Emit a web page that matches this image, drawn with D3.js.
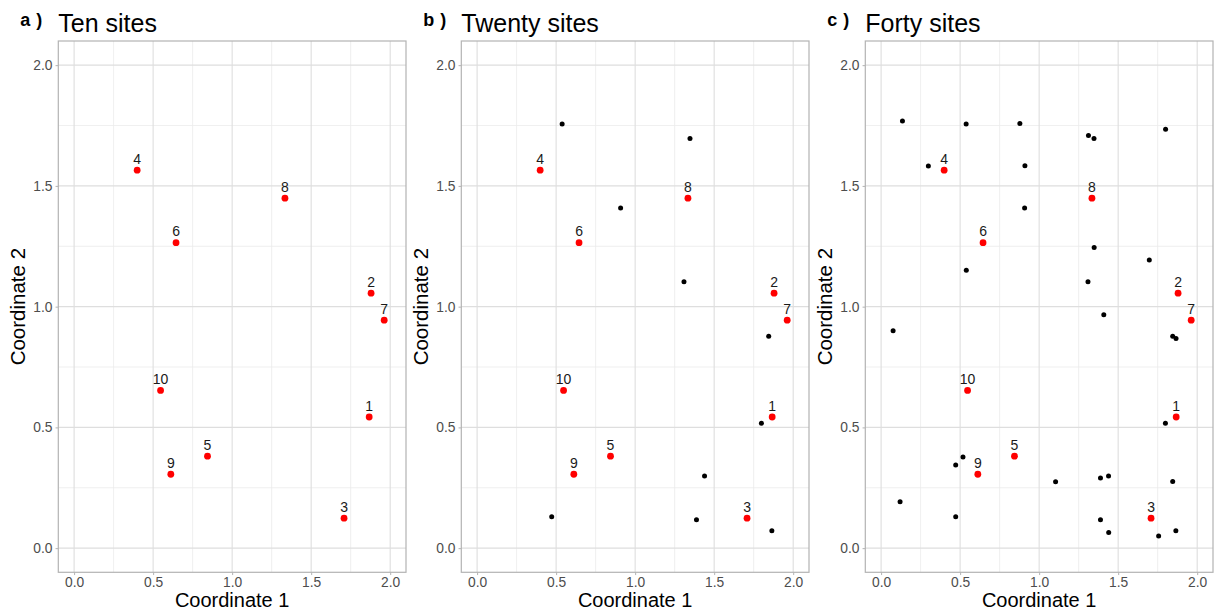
<!DOCTYPE html>
<html>
<head>
<meta charset="utf-8">
<script src="https://cdn.jsdelivr.net/npm/d3@7"></script>
<style>
  body { margin: 0; background: #fff; }
  svg text { font-family: "Liberation Sans", Arial, sans-serif; }
</style>
</head>
<body>
<div id="chart"></div>
<script>
// sites 1-10 are the labelled (red) ones, 11-20 added in panel b, 21-40 in panel c
const siteX = [1.867, 1.879, 1.708, 0.399, 0.844, 0.645, 1.962, 1.334, 0.612, 0.547,
               0.538, 1.347, 0.908, 1.309, 1.845, 1.799, 1.439, 0.472, 1.388, 1.865,
               0.135, 0.878, 1.312, 1.800, 0.299, 0.910, 0.539, 1.348, 1.697, 1.409,
               0.076, 1.866, 0.472, 0.518, 1.104, 1.388, 1.845, 0.120, 1.440, 1.756];
const siteY = [0.543, 1.056, 0.124, 1.565, 0.381, 1.265, 0.944, 1.449, 0.306, 0.653,
               1.756, 1.696, 1.409, 1.103, 0.877, 0.517, 0.299, 0.130, 0.118, 0.072,
               1.769, 1.758, 1.709, 1.735, 1.582, 1.583, 1.151, 1.245, 1.193, 0.966,
               0.900, 0.868, 0.344, 0.377, 0.275, 0.290, 0.276, 0.192, 0.065, 0.050];
const nLabelled = 10;
const panelSites = [10, 20, 40];
const panelTags = ['a', 'b', 'c'];
const panelTitles = ['Ten sites', 'Twenty sites', 'Forty sites'];
const majorTicks = [0, 0.5, 1, 1.5, 2];
const minorTicks = [0.25, 0.75, 1.25, 1.75];

const W = 1219, H = 612;
const panelLeft = [58.3, 461.3, 865.3];
const pw = 347.7;
const plotTop = 41, plotBottom = 572.3;

const svg = d3.select('#chart').append('svg')
    .attr('width', W)
    .attr('height', H);

panelSites.forEach((n, i) => {
  const h = plotBottom - plotTop;
  const x = d3.scaleLinear().domain([-0.1, 2.1]).range([0, pw]);
  const y = d3.scaleLinear().domain([-0.1, 2.1]).range([h, 0]);

  const g = svg.append('g')
      .attr('transform', `translate(${panelLeft[i]},${plotTop})`);

  // minor grid
  g.append('g').selectAll('line')
    .data(minorTicks).join('line')
      .attr('x1', d => x(d)).attr('x2', d => x(d))
      .attr('y1', 0).attr('y2', h)
      .attr('stroke', '#ebebeb').attr('stroke-width', 0.8);
  g.append('g').selectAll('line')
    .data(minorTicks).join('line')
      .attr('y1', d => y(d)).attr('y2', d => y(d))
      .attr('x1', 0).attr('x2', pw)
      .attr('stroke', '#ebebeb').attr('stroke-width', 0.8);

  // major grid
  g.append('g').selectAll('line')
    .data(majorTicks).join('line')
      .attr('x1', d => x(d)).attr('x2', d => x(d))
      .attr('y1', 0).attr('y2', h)
      .attr('stroke', '#dedede').attr('stroke-width', 1.1);
  g.append('g').selectAll('line')
    .data(majorTicks).join('line')
      .attr('y1', d => y(d)).attr('y2', d => y(d))
      .attr('x1', 0).attr('x2', pw)
      .attr('stroke', '#dedede').attr('stroke-width', 1.1);

  // axes
  const xAxis = g.append('g')
      .attr('transform', `translate(0,${h})`)
      .call(d3.axisBottom(x).tickValues(majorTicks).tickFormat(d3.format('.1f')).tickSize(2.75).tickPadding(2.5));
  const yAxis = g.append('g')
      .call(d3.axisLeft(y).tickValues(majorTicks).tickFormat(d3.format('.1f')).tickSize(2.75).tickPadding(3));
  [xAxis, yAxis].forEach(a => {
    a.select('.domain').remove();
    a.selectAll('line').attr('stroke', '#b3b3b3').attr('stroke-width', 1);
    a.selectAll('text').attr('fill', '#4d4d4d').style('font-size', '13.8px');
  });

  // panel border
  g.append('rect')
      .attr('width', pw).attr('height', h)
      .attr('fill', 'none')
      .attr('stroke', '#b3b3b3').attr('stroke-width', 1.2);

  const sites = d3.range(n).map(k => ({ id: k + 1, x: siteX[k], y: siteY[k] }));

  // unlabelled sites
  g.append('g').selectAll('circle')
    .data(sites.filter(d => d.id > nLabelled)).join('circle')
      .attr('cx', d => x(d.x)).attr('cy', d => y(d.y))
      .attr('r', 2.5).attr('fill', '#000');

  // labelled sites
  g.append('g').selectAll('circle')
    .data(sites.filter(d => d.id <= nLabelled)).join('circle')
      .attr('cx', d => x(d.x)).attr('cy', d => y(d.y))
      .attr('r', 3.4).attr('fill', '#ff0000');
  g.append('g').selectAll('text')
    .data(sites.filter(d => d.id <= nLabelled)).join('text')
      .attr('x', d => x(d.x)).attr('y', d => y(d.y) - 6.5)
      .attr('text-anchor', 'middle')
      .style('font-size', '14px')
      .attr('fill', '#1a1a1a')
      .text(d => d.id);

  // axis titles
  g.append('text')
      .attr('x', pw / 2).attr('y', h + 35)
      .attr('text-anchor', 'middle')
      .style('font-size', '20px')
      .attr('fill', '#000')
      .text('Coordinate 1');
  g.append('text')
      .attr('transform', `translate(-33,${h / 2}) rotate(-90)`)
      .attr('text-anchor', 'middle')
      .style('font-size', '20.5px')
      .attr('fill', '#000')
      .text('Coordinate 2');

  // tag + title
  const tag = svg.append('text')
      .attr('x', panelLeft[i] - 38).attr('y', 26)
      .style('font-size', '18px').style('font-weight', 'bold')
      .attr('fill', '#000');
  tag.append('tspan').text(panelTags[i]);
  tag.append('tspan').attr('dx', 6).text(')');
  svg.append('text')
      .attr('x', panelLeft[i]).attr('y', 31.5)
      .style('font-size', '25px')
      .attr('fill', '#000')
      .text(panelTitles[i]);
});
</script>
</body>
</html>
